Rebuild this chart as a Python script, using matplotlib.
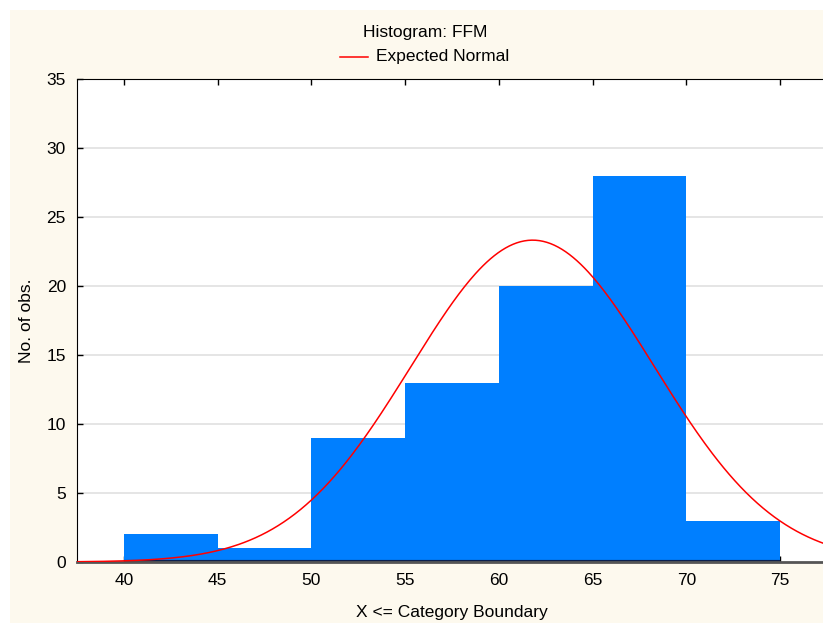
import numpy as np
import matplotlib
matplotlib.use("Agg")
import matplotlib.pyplot as plt

plt.rcParams['font.family'] = ['Liberation Sans', 'DejaVu Sans']

# histogram of FFM (category upper boundaries)
bin_edges = [40, 45, 50, 55, 60, 65, 70, 75]
counts = [2, 1, 9, 13, 20, 28, 3]

# expected normal parameters
n_obs = 76
mean_ffm = 61.8
sd_ffm = 6.5

W, H = 823, 623
fig = plt.figure(figsize=(W / 100, H / 100), dpi=100)
fig.patch.set_facecolor('white')

# cream panel behind the chart
bg = fig.add_axes([10 / W, 0, 1 - 10 / W, 1 - 10 / H])
bg.set_facecolor('#fdf9ee')
bg.set_xticks([])
bg.set_yticks([])
for s in bg.spines.values():
    s.set_visible(False)

left, right, top, bottom = 77, 827, 79, 562
ax = fig.add_axes([left / W, 1 - bottom / H, (right - left) / W, (bottom - top) / H])
ax.set_facecolor('white')

# gridlines behind the bars
for yv in range(5, 35, 5):
    ax.axhline(yv, color='#e0e0e0', lw=1.2, zorder=0)

ax.bar(bin_edges[:-1], counts, width=5, align='edge', color='#007fff',
       edgecolor='none', zorder=2)
# dark base under the bars
ax.hlines(0, bin_edges[0], bin_edges[-1], color='#0a2050', lw=3, zorder=2.5)

xs = np.linspace(37.5, 77.5, 400)
expected = n_obs * 5 / (sd_ffm * np.sqrt(2 * np.pi)) * np.exp(-0.5 * ((xs - mean_ffm) / sd_ffm) ** 2)
ax.plot(xs, expected, color='red', lw=1.1, zorder=3)

ax.set_xlim(37.5, 77.5)
ax.set_ylim(0, 35)
ax.set_xticks([40, 45, 50, 55, 60, 65, 70, 75])
ax.set_yticks(range(0, 36, 5))
ax.tick_params(direction='in', length=4, width=1, labelsize=12.5, pad=8,
               top=True, right=False)
ax.spines['right'].set_visible(False)
ax.spines['bottom'].set_color('#555555')
ax.spines['bottom'].set_linewidth(2)

ax.set_xlabel('X <= Category Boundary', fontsize=12.5, labelpad=12)
ax.set_ylabel('No. of obs.', fontsize=12.5, labelpad=9)

fig.text(425 / W, 1 - 32 / H, 'Histogram: FFM', ha='center', va='center', fontsize=12.5)
fig.lines.append(plt.Line2D([340 / W, 368 / W], [1 - 57 / H, 1 - 57 / H],
                            color='red', lw=1.1, transform=fig.transFigure))
fig.text(376 / W, 1 - 57 / H, 'Expected Normal', ha='left', va='center', fontsize=12.5)

fig.savefig('out.png', dpi=100)
